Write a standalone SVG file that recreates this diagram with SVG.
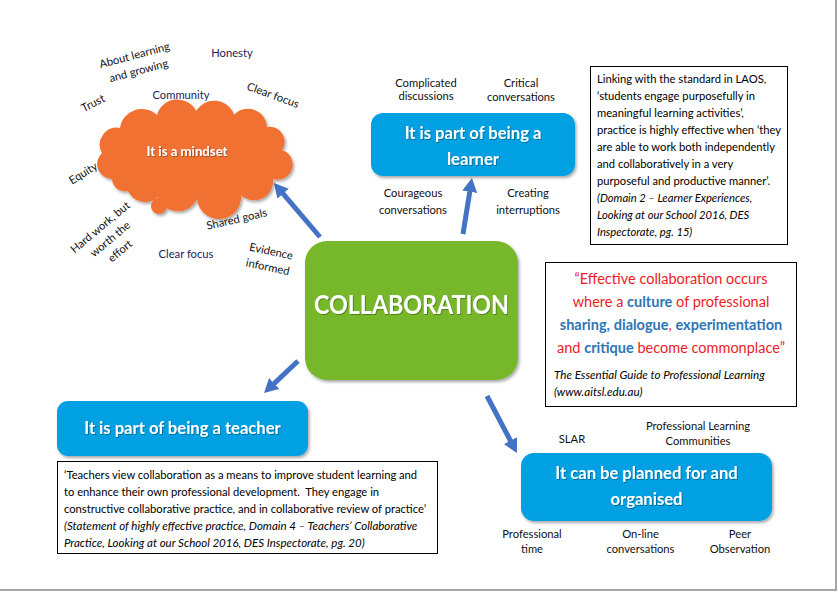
<svg xmlns="http://www.w3.org/2000/svg" width="838" height="593" viewBox="0 0 838 593">
<style>
text{font-family:Lato,"Open Sans","Liberation Sans",sans-serif;}
.lbl{font-size:11.2px;fill:#111;text-anchor:middle;}
.navy{fill:#1b1b5c;}
.box{font-size:16.6px;font-weight:bold;fill:#fff;text-anchor:middle;}
.para{font-size:11.2px;fill:#000;}
.it{font-style:italic;}
.red{fill:#ee1c25;}
.blu{fill:#2e75b6;font-weight:bold;}
.arrow{stroke:#4472c4;stroke-width:5;fill:none;}
.frame{stroke:#a6a6a6;stroke-width:2;}
</style>
<defs>
<filter id="sh" x="-10%" y="-10%" width="130%" height="130%">
<feDropShadow dx="1.5" dy="2" stdDeviation="1.5" flood-color="#000" flood-opacity="0.35"/>
</filter>
<filter id="tsh" x="-5%" y="-20%" width="110%" height="150%">
<feDropShadow dx="0.8" dy="0.8" stdDeviation="0.6" flood-color="#000" flood-opacity="0.4"/>
</filter>
<marker id="ah" viewBox="0 -8 16 16" refX="1" refY="0" markerWidth="16" markerHeight="16" markerUnits="userSpaceOnUse" orient="auto">
<path d="M0,-7.5 L14,0 L0,7.5 z" fill="#4472c4"/>
</marker>
</defs>
<rect width="838" height="593" fill="#fff"/>
<line class="frame" x1="836" y1="0" x2="836" y2="591"/>
<line class="frame" x1="0" y1="590" x2="837" y2="590"/>

<g id="connectors">
<line class="arrow" x1="320" y1="237" x2="282.4" y2="192.9" marker-end="url(#ah)"/>
<line class="arrow" x1="463" y1="234" x2="469.9" y2="190.8" marker-end="url(#ah)"/>
<line class="arrow" x1="298" y1="361" x2="273.5" y2="384.1" marker-end="url(#ah)"/>
<line class="arrow" x1="487" y1="396" x2="510.9" y2="441.5" marker-end="url(#ah)"/>
</g>

<g id="mindset">
<g filter="url(#sh)" fill="#f07130">
<path d="M112,179 A15,15 0 0 1 102,153 A17,17 0 0 1 120,128 A22,22 0 0 1 157,115 A21,21 0 0 1 196,111 A21,21 0 0 1 234,115 A19,19 0 0 1 267,127 A15,15 0 0 1 282,150 A15,15 0 0 1 273,179 A19,19 0 0 1 241,195 A22,22 0 0 1 197,199 A21,21 0 0 1 158,197 A19,19 0 0 1 128,191 A13,13 0 0 1 112,179 Z"/>
<circle cx="159" cy="206" r="8"/>
</g>
<text class="box" x="187" y="156" style="font-size:13.2px" filter="url(#tsh)">It is a mindset</text>
</g>

<g id="mindset-labels">
<g transform="rotate(-15 136.5 62.8)">
<text class="lbl" x="136.5" y="58.8">About learning</text>
<text class="lbl" x="136.5" y="74.8">and growing</text>
</g>
<text class="lbl navy" x="232" y="57">Honesty</text>
<text class="lbl" x="93" y="107" transform="rotate(-27 93 103)">Trust</text>
<text class="lbl navy" x="181" y="99">Community</text>
<text class="lbl" x="273" y="99" transform="rotate(20 273 95)">Clear focus</text>
<text class="lbl" x="83" y="177" transform="rotate(-32 83 173)">Equity</text>
<g transform="rotate(-40 110 239)">
<text class="lbl" x="110" y="227.5">Hard work, but</text>
<text class="lbl" x="110" y="243">worth the</text>
<text class="lbl" x="110" y="258.5">effort</text>
</g>
<text class="lbl" x="236.7" y="223" transform="rotate(-13 236.7 219)">Shared goals</text>
<text class="lbl navy" x="186" y="258">Clear focus</text>
<g transform="rotate(12 269.5 259)">
<text class="lbl" x="269.5" y="255">Evidence</text>
<text class="lbl" x="269.5" y="271">informed</text>
</g>
</g>

<g id="collaboration">
<rect x="305" y="241" width="213" height="139" rx="22" fill="#77b82a" filter="url(#sh)"/>
<text x="411.5" y="314" textLength="195" lengthAdjust="spacingAndGlyphs" style="font-size:26px;font-weight:bold;fill:#fff;text-anchor:middle" filter="url(#tsh)">COLLABORATION</text>
</g>

<g id="learner">
<rect x="371" y="113" width="204" height="63" rx="12" fill="#00a0e3" filter="url(#sh)"/>
<text class="box" x="473" y="138.5" filter="url(#tsh)">It is part of being a</text>
<text class="box" x="473" y="164.5" filter="url(#tsh)">learner</text>
<text class="lbl" x="426" y="86.5">Complicated</text>
<text class="lbl" x="426" y="100">discussions</text>
<text class="lbl" x="521" y="86.5">Critical</text>
<text class="lbl" x="521" y="100.5">conversations</text>
<text class="lbl" x="413" y="197">Courageous</text>
<text class="lbl" x="413" y="214">conversations</text>
<text class="lbl" x="528" y="196.5">Creating</text>
<text class="lbl" x="528" y="214">interruptions</text>
</g>

<g id="laos-quote">
<rect x="590.5" y="66.5" width="197" height="178" fill="#fff" stroke="#000" stroke-width="1"/>
<text class="para" x="597" y="83">Linking with the standard in LAOS,</text>
<text class="para" x="597" y="100">‘students engage purposefully in</text>
<text class="para" x="597" y="117">meaningful learning activities’,</text>
<text class="para" x="597" y="134">practice is highly effective when ‘they</text>
<text class="para" x="597" y="151">are able to work both independently</text>
<text class="para" x="597" y="168">and collaboratively in a very</text>
<text class="para" x="597" y="185">purposeful and productive manner’.</text>
<text class="para it" x="597" y="202">(Domain 2 – Learner Experiences,</text>
<text class="para it" x="597" y="219">Looking at our School 2016, DES</text>
<text class="para it" x="597" y="236">Inspectorate, pg. 15)</text>
</g>

<g id="aitsl-quote">
<rect x="545.5" y="262.5" width="251" height="144" fill="#fff" stroke="#000" stroke-width="1"/>
<text x="671" y="283.5" style="font-size:14.5px;text-anchor:middle" class="red">“Effective collaboration occurs</text>
<text x="671" y="307" style="font-size:14.5px;text-anchor:middle" class="red">where a <tspan class="blu">culture</tspan> of professional</text>
<text x="671" y="330" style="font-size:14.5px;text-anchor:middle" class="red"><tspan class="blu">sharing,</tspan> <tspan class="blu">dialogue</tspan>, <tspan class="blu">experimentation</tspan></text>
<text x="671" y="352.5" style="font-size:14.5px;text-anchor:middle" class="red">and <tspan class="blu">critique</tspan> become commonplace”</text>
<text class="para it" x="554" y="379" style="font-size:11.6px">The Essential Guide to Professional Learning</text>
<text class="para it" x="554" y="396" style="font-size:11.6px">(www.aitsl.edu.au)</text>
</g>

<g id="teacher">
<rect x="57" y="401" width="251" height="55" rx="11" fill="#00a0e3" filter="url(#sh)"/>
<text class="box" x="182.5" y="433.5" filter="url(#tsh)">It is part of being a teacher</text>
</g>

<g id="teacher-quote">
<rect x="57.5" y="461.5" width="380" height="92" fill="#fff" stroke="#000" stroke-width="1"/>
<text class="para" x="64" y="478.5">‘Teachers view collaboration as a means to improve student learning and</text>
<text class="para" x="64" y="495.5" xml:space="preserve">to enhance their own professional development.  They engage in</text>
<text class="para" x="64" y="512.5">constructive collaborative practice, and in collaborative review of practice’</text>
<text class="para it" x="64" y="530" style="font-size:11.5px">(Statement of highly effective practice, Domain 4 – Teachers’ Collaborative</text>
<text class="para it" x="64" y="547" style="font-size:11.5px">Practice, Looking at our School 2016, DES Inspectorate, pg. 20)</text>
</g>

<g id="planned">
<rect x="521" y="453" width="251" height="68" rx="13" fill="#00a0e3" filter="url(#sh)"/>
<text class="box" x="646.5" y="479" filter="url(#tsh)">It can be planned for and</text>
<text class="box" x="646.5" y="505" filter="url(#tsh)">organised</text>
<text class="lbl" x="572" y="443">SLAR</text>
<text class="lbl" x="698" y="430">Professional Learning</text>
<text class="lbl" x="698" y="445">Communities</text>
<text class="lbl" x="532" y="538">Professional</text>
<text class="lbl" x="532" y="552.5">time</text>
<text class="lbl" x="640.5" y="538">On-line</text>
<text class="lbl" x="640.5" y="552.5">conversations</text>
<text class="lbl" x="740" y="538">Peer</text>
<text class="lbl" x="740" y="552.5">Observation</text>
</g>
</svg>
